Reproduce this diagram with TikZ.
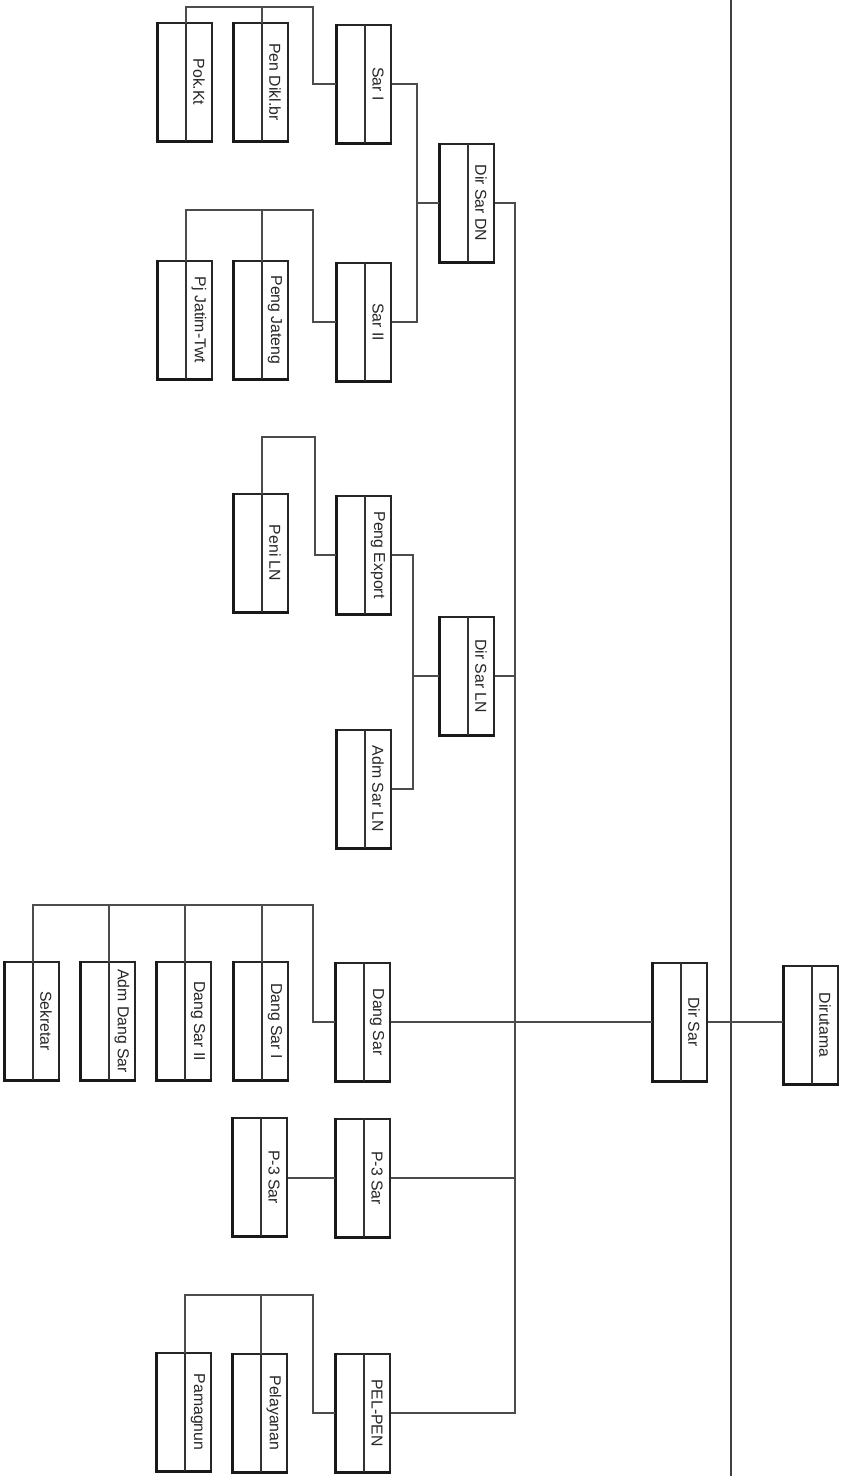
\documentclass[tikz,border=0pt]{standalone}
\usepackage{fontspec}
\setmainfont{Liberation Sans}
\tikzset{
  box/.style={draw=black!85, line width=0.7pt, minimum width=1.08cm, minimum height=2.36cm, inner sep=0pt, fill=white},
  shadowedge/.style={draw=black!90, line width=2pt},
  divider/.style={draw=black!80, line width=0.6pt},
  lbl/.style={rotate=-90, font=\fontsize{9}{10}\selectfont, text=black!85, inner sep=0pt},
  conn/.style={draw=black!70, line width=0.7pt},
  page/.style={draw=black!75, line width=1.3pt}
}
\newcommand{\orgbox}[4]{%
  \node[box] (#1) at ({#2+27},{#3+59}) {};
  \draw[shadowedge] (#1.north west) -- (#1.south west) -- (#1.south east);
  \coordinate (#1-d) at ({#2+28},#3);
  \coordinate (#1-db) at ({#2+28},{#3+118});
  \draw[divider] (#1-d) -- (#1-db);
  \node[lbl] (#1-t) at ({#2+41},{#3+59}) {#4};
}
\begin{document}
\begin{tikzpicture}[x=0.02cm, y=-0.02cm]
\useasboundingbox (0,0) rectangle (852,1476);

% page separator line
\coordinate (pgtop) at (731,0);
\coordinate (pgbot) at (731,1476);
\draw[page] (pgtop) -- (pgbot);

% boxes
\orgbox{pok}{158}{23}{Pok.Kt}
\orgbox{pendik}{234}{23}{Pen Dikl.br}
\orgbox{sar1}{337}{25}{Sar I}
\orgbox{dirsardn}{440}{144}{Dir Sar DN}
\orgbox{pjjatim}{158}{261}{Pj Jatim-Twt}
\orgbox{pengjateng}{234}{261}{Peng Jateng}
\orgbox{sar2}{337}{263}{Sar II}
\orgbox{penln}{234}{494}{Peni LN}
\orgbox{export}{337}{496}{Peng Export}
\orgbox{dirsarln}{440}{617}{Dir Sar LN}
\orgbox{admsarln}{337}{730}{Adm Sar LN}
\orgbox{sek}{5}{962}{Sekretar}
\orgbox{admdang}{81}{962}{Adm Dang Sar}
\orgbox{dang2}{157}{962}{Dang Sar II}
\orgbox{dang1}{234}{962}{Dang Sar I}
\orgbox{dangsar}{336}{963}{Dang Sar}
\orgbox{dirsar}{653}{963}{Dir Sar}
\orgbox{dirut}{784}{966}{Dirutama}
\orgbox{p3a}{233}{1118}{P-3 Sar}
\orgbox{p3b}{336}{1119}{P-3 Sar}
\orgbox{pam}{157}{1353}{Pamagnun}
\orgbox{pel}{233}{1354}{Pelayanan}
\orgbox{pelpen}{336}{1354}{PEL-PEN}

% bus points
\coordinate (b1) at (313,7);
\coordinate (b2) at (313,210);
\coordinate (b3) at (315,437);
\coordinate (b4) at (313,905);
\coordinate (b5) at (313,1295);
\coordinate (j1) at (417,203);
\coordinate (j2) at (413,676);
\coordinate (tb) at (515,1413);

% Sar I group
\draw[conn] (pok-d) |- (b1) |- (sar1.west);
\draw[conn] (pendik-d) -- (pendik-d |- b1);
% Sar II group
\draw[conn] (pjjatim-d) |- (b2) |- (sar2.west);
\draw[conn] (pengjateng-d) -- (pengjateng-d |- b2);
% Dir Sar DN
\draw[conn] (sar1.east) -| (j1) |- (sar2.east);
\draw[conn] (j1) -- (dirsardn.west);
% Peng Export group
\draw[conn] (penln-d) |- (b3) |- (export.west);
% Dir Sar LN
\draw[conn] (export.east) -| (j2) |- (admsarln.east);
\draw[conn] (j2) -- (dirsarln.west);
% trunk
\draw[conn] (dirsardn.east) -| (tb) -- (pelpen.east);
\draw[conn] (dirsarln.east) -- (dirsarln.east -| tb);
\draw[conn] (p3b.east) -- (p3b.east -| tb);
% Dang Sar group
\draw[conn] (sek-d) |- (b4) |- (dangsar.west);
\draw[conn] (admdang-d) -- (admdang-d |- b4);
\draw[conn] (dang2-d) -- (dang2-d |- b4);
\draw[conn] (dang1-d) -- (dang1-d |- b4);
\draw[conn] (dangsar.east) -- (dirsar.west);
% P-3
\draw[conn] (p3b.west) -- (p3b.west -| p3a.east);
% PEL-PEN group
\draw[conn] (pam-d) |- (b5) |- (pelpen.west);
\draw[conn] (pel-d) -- (pel-d |- b5);
% top
\draw[conn] (dirsar.east) -- (dirsar.east -| dirut.west);
\end{tikzpicture}
\end{document}
